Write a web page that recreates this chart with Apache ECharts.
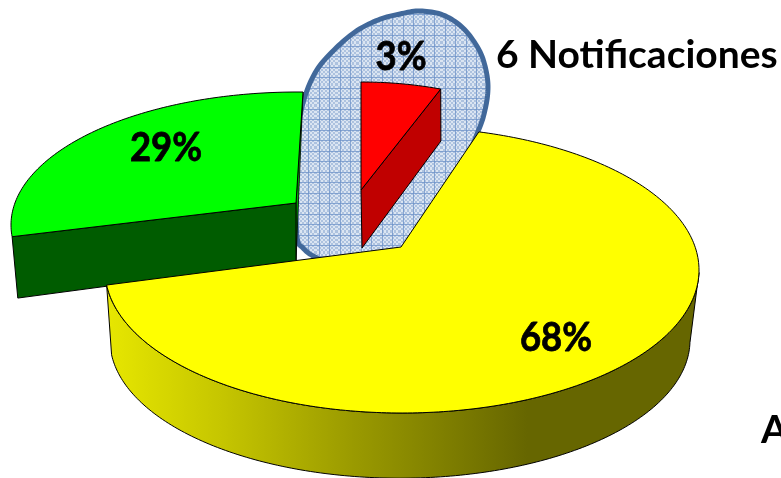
<!DOCTYPE html>
<html><head><meta charset="utf-8">
<style>html,body{margin:0;padding:0;background:#fff}#c{width:781px;height:478px}</style>
<script src="https://cdn.jsdelivr.net/npm/echarts@6/dist/echarts.min.js"></script>
</head><body><div id="c"></div>
<script>
// Values (drawn back to front)
var values = [29, 68, 3];
var sliceLabels = ['29%', '68%', '3%'];
var calloutText = '6 Notificaciones';
var clippedText = 'A';

// Projection of each slice of the 3D pie (styles and geometry, no data)
var slices = [
  {top:'#00ff00', side:'#005c00', cut:'#00b000', apex:[296,203], c:[298,225], rx:287, ry:133, start:89, dir:1, k:0.92,
   face:'cut', ex:{sx:0.98, sy:1.1, dx:0, dy:58}, label:[166,148]},
  {top:'#ffff00', side:{type:'linear', global:true, x:110, y:0, x2:690, y2:0, colorStops:[
      {offset:0,color:'#e6e600'},{offset:0.19,color:'#c6c600'},{offset:0.42,color:'#9a9a00'},{offset:0.72,color:'#666600'},{offset:1,color:'#666600'}]},
   apex:[401,247], c:[402,270], rx:297, ry:143, start:75, dir:-1, k:1.017,
   face:'rim', ex:{sx:0.9765, sy:0.965, dx:-2, dy:71}, label:[556,338]},
  {top:'#ff0000', side:'#c00000', apex:[361,190], c:[361,190], rx:224, ry:108, start:90, dir:-1, k:1.93,
   face:'cut', ex:{sx:0.99, sy:1.06, dx:1, dy:58}, label:[401,57]}
];
var calloutOutline = [[303,103],[315,73],[332,52],[355,32],[378,20],[400,14],[420,11],[443,15],[463,28],[478,48],[485,66],[488,87],[485,110],[477,134],[450,195],[400,258],[345,270],[315,257],[303,248],[297,237],[295,190],[297,140]];

function catmull(pts){
  var out=[],n=pts.length;
  for(var i=0;i<n;i++){
    var a=pts[(i-1+n)%n],b=pts[i],c=pts[(i+1)%n],d=pts[(i+2)%n];
    for(var t=0;t<1;t+=0.1){
      var t2=t*t,t3=t2*t;
      out.push([0,1].map(function(q){
        return 0.5*(2*b[q]+(c[q]-a[q])*t+(2*a[q]-5*b[q]+4*c[q]-d[q])*t2+(3*b[q]-a[q]-3*c[q]+d[q])*t3);
      }));
    }
  }
  return out;
}
function pat(){
  var t=document.createElement('canvas');t.width=t.height=21;var g=t.getContext('2d');
  g.fillStyle='#dbe5f2';g.fillRect(0,0,21,21);
  g.fillStyle='#adc2df';
  for(var y=0;y<21;y+=2)for(var x=0;x<21;x+=2){if(((x+y)/2)%2===0)g.fillRect(x,y,2,2);}
  g.fillStyle='rgba(110,145,200,0.75)';
  g.fillRect(0,4,21,1);g.fillRect(0,14,21,1);g.fillRect(4,0,1,21);g.fillRect(14,0,1,21);
  return t;
}
function pt(s,deg){var a=deg*Math.PI/180;return [s.c[0]+s.rx*Math.cos(a), s.c[1]-s.ry*Math.sin(a)];}
function ext(s,p){return [s.apex[0]+(p[0]-s.apex[0])*s.ex.sx+s.ex.dx, s.apex[1]+(p[1]-s.apex[1])*s.ex.sy+s.ex.dy];}
function renderItem(params,api){
  var i=params.dataIndex, s=slices[i], v=api.value(0);
  var sweep=v*3.6*s.k, rim=[], n=Math.max(8,Math.round(sweep));
  for(var j=0;j<=n;j++) rim.push(pt(s,s.start+s.dir*sweep*j/n));
  var end=rim[rim.length-1], kids=[];
  if(s.cut) kids.push({type:'polygon',shape:{points:[rim[0],s.apex,ext(s,s.apex)]},style:{fill:s.cut,stroke:'#000',lineWidth:0.8}});
  if(s.face==='cut'){
    kids.push({type:'polygon',shape:{points:[end,s.apex,ext(s,s.apex),ext(s,end)]},style:{fill:s.side,stroke:'#000',lineWidth:1}});
  } else {
    var front=[];
    for(j=0;j<=n;j++){var d=s.start+s.dir*sweep*j/n; if(d<=0) front.push(pt(s,d));}
    var poly=front.concat(front.slice().reverse().map(function(p){return ext(s,p);}));
    kids.push({type:'polygon',shape:{points:poly},style:{fill:s.side,stroke:'#000',lineWidth:1}});
  }
  kids.push({type:'polygon',shape:{points:[s.apex].concat(rim)},style:{fill:s.top,stroke:'#000',lineWidth:1}});
  kids.push({type:'text',z2:10,x:s.label[0],y:s.label[1],scaleX:0.89,style:{text:sliceLabels[i],x:0,y:0,align:'center',verticalAlign:'middle',
    font:'bold 41px Lato, "Open Sans", sans-serif',fill:'#000',stroke:'#000',lineWidth:0.8}});
  return {type:'group',children:kids};
}
var chart=echarts.init(document.getElementById('c'),null,{renderer:'canvas'});
chart.setOption({
  animation:false,
  backgroundColor:'#fff',
  series:[{type:'custom',coordinateSystem:'none',renderItem:renderItem,silent:true,z:5,clip:false,
    data:values.map(function(v){return [v];})}],
  graphic:[
    {type:'polygon',z:1,silent:true,shape:{points:catmull(calloutOutline)},
      style:{fill:{image:pat(),repeat:'repeat'},stroke:'#41689a',lineWidth:5}},
    {type:'text',z:20,silent:true,left:496,top:36,style:{text:calloutText,font:'bold 39px Lato, "Open Sans", sans-serif',fill:'#000'}},
    {type:'text',z:20,silent:true,left:761,top:411,style:{text:clippedText,font:'bold 39px Lato, "Open Sans", sans-serif',fill:'#000'}}
  ]
});
</script></body></html>
